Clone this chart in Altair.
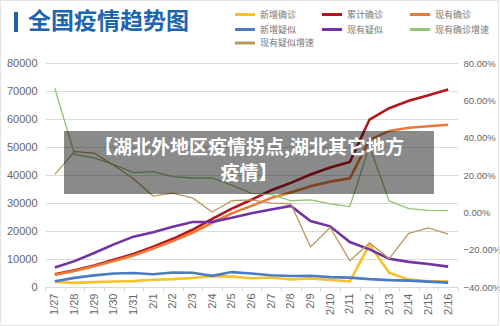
import altair as alt
import pandas as pd

# Daily national figures, 1/27 - 2/16
dates = ["1/27", "1/28", "1/29", "1/30", "1/31", "2/1", "2/2", "2/3", "2/4", "2/5", "2/6",
         "2/7", "2/8", "2/9", "2/10", "2/11", "2/12", "2/13", "2/14", "2/15", "2/16"]
new_confirmed = [1771, 1459, 1737, 1982, 2102, 2590, 2829, 3235, 3887, 3694, 3143,
                 3399, 2656, 3062, 2478, 2015, 15152, 5090, 2641, 2009, 2048]
total_confirmed = [4515, 5974, 7711, 9692, 11791, 14380, 17205, 20438, 24324, 28018, 31161,
                   34546, 37198, 40171, 42638, 44653, 59804, 63851, 66492, 68500, 70548]
current_confirmed = [4409, 5739, 7417, 9308, 11289, 13748, 16369, 19381, 22942, 26302, 28985,
                     31774, 33738, 35982, 37626, 38800, 52526, 55748, 56873, 57416, 57934]
new_suspected = [2077, 3248, 4148, 4812, 5019, 4562, 5173, 5072, 3971, 5328, 4833,
                 4214, 3916, 4008, 3536, 3342, 2807, 2450, 2277, 1918, 1563]
current_suspected = [6973, 9239, 12167, 15238, 17988, 19544, 21558, 23214, 23260, 24702, 26359,
                     27657, 28942, 23589, 21675, 16067, 13435, 10109, 8969, 8228, 7264]
confirmed_growth = [0.665, 0.31, 0.292, 0.255, 0.213, 0.218, 0.191, 0.184, 0.184, 0.146, 0.102,
                    0.096, 0.062, 0.067, 0.046, 0.031, 0.354, 0.061, 0.020, 0.010, 0.009]
suspected_growth = [0.203, 0.325, 0.317, 0.252, 0.180, 0.087, 0.103, 0.077, 0.002, 0.062, 0.067,
                    0.049, 0.046, -0.185, -0.081, -0.259, -0.164, -0.248, -0.113, -0.083, -0.117]

count_names = ["新增确诊", "累计确诊", "现有确诊", "新增疑似", "现有疑似"]
count_colors = ["#F6C12C", "#B3141E", "#EC7A35", "#4A7CC2", "#7233A3"]
rate_names = ["现有确诊增速", "现有疑似增速"]
rate_colors = ["#93C374", "#B89A5E"]

legend_order = ["新增确诊", "累计确诊", "现有确诊", "新增疑似", "现有疑似", "现有确诊增速", "现有疑似增速"]
color_of = dict(zip(count_names + rate_names, count_colors + rate_colors))

title_text = "全国疫情趋势图"
banner_lines = ["【湖北外地区疫情拐点,湖北其它地方", "疫情】"]

CJK = "Noto Sans CJK SC"
LATIN = "Liberation Sans"

# Plot area placement inside the 500x326 canvas
LEFT, TOP, W, H = 45, 63, 413, 224


def px(x):
    return x - LEFT


def py(y):
    return y - TOP


count_df = pd.DataFrame(
    [(d, n, v) for n, vals in zip(count_names,
                                  [new_confirmed, total_confirmed, current_confirmed,
                                   new_suspected, current_suspected])
     for d, v in zip(dates, vals)],
    columns=["date", "series", "value"],
)
rate_df = pd.DataFrame(
    [(d, n, v) for n, vals in zip(rate_names, [confirmed_growth, suspected_growth])
     for d, v in zip(dates, vals)],
    columns=["date", "series", "rate"],
)

x_enc = alt.X(
    "date:O", sort=dates, bandPosition=0.5,
    scale=alt.Scale(type="band", paddingInner=0, paddingOuter=0),
    axis=alt.Axis(title=None, labelAngle=270, labelFont=LATIN, labelFontSize=11,
                  labelColor="#666666", domainColor="#d9d9d9", tickColor="#d9d9d9",
                  tickSize=4, tickBand="extent", labelPadding=2, grid=False),
)

counts = alt.Chart(count_df).mark_line(strokeWidth=2.6).encode(
    x=x_enc,
    y=alt.Y("value:Q", scale=alt.Scale(domain=[0, 80000], nice=False),
            axis=alt.Axis(orient="left", values=list(range(0, 80001, 10000)), format="d",
                          title=None, labelFont=LATIN, labelFontSize=11, labelColor="#666666",
                          grid=True, gridColor="#dcdcdc", domain=False, ticks=False,
                          labelPadding=8)),
    color=alt.Color("series:N", scale=alt.Scale(domain=count_names, range=count_colors),
                    legend=None),
    detail="series:N",
)

rates = alt.Chart(rate_df).mark_line(strokeWidth=1.3).encode(
    x=x_enc,
    y=alt.Y("rate:Q", scale=alt.Scale(domain=[-0.4, 0.8], nice=False),
            axis=alt.Axis(orient="right", values=[-0.4, -0.2, 0, 0.2, 0.4, 0.6, 0.8],
                          format=".2%", title=None, labelFont=LATIN, labelFontSize=9.5,
                          labelColor="#666666", grid=False, domain=False, ticks=False,
                          labelPadding=5)),
    color=alt.Color("series:N", scale=alt.Scale(domain=rate_names, range=rate_colors),
                    legend=None),
)

one = pd.DataFrame({"t": [""]})

# Semi-transparent caption banner over the plot
banner = alt.Chart(one).mark_rect(color="#000000", opacity=0.46).encode(
    x=alt.value(px(64)), x2=alt.value(px(434)), y=alt.value(py(131)), y2=alt.value(py(194)))

banner_texts = [
    alt.Chart(pd.DataFrame({"t": [line]})).mark_text(
        font=CJK, fontSize=19, fontWeight="bold", color="white", align="center",
        baseline="middle").encode(x=alt.value(px(249)), y=alt.value(py(yy)), text="t:N")
    for line, yy in zip(banner_lines, [147.5, 173.5])
]

# Heading with the accent bar
title_bar = alt.Chart(one).mark_rect(color="#1E64AE").encode(
    x=alt.value(px(14)), x2=alt.value(px(18)), y=alt.value(py(12)), y2=alt.value(py(32)))
title = alt.Chart(pd.DataFrame({"t": [title_text]})).mark_text(
    font=CJK, fontSize=23, fontWeight="bold", color="#1E64AE", align="left",
    baseline="middle").encode(x=alt.value(px(28)), y=alt.value(py(22)), text="t:N")

# Hand-placed legend: three columns, row-major order
legend_layers = []
col_x = [235, 322, 410]
row_y = [14.5, 29.5, 43]
for i, name in enumerate(legend_order):
    cx, ry = col_x[i % 3], row_y[i // 3]
    legend_layers.append(
        alt.Chart(one).mark_rule(strokeWidth=3, color=color_of[name]).encode(
            x=alt.value(px(cx)), x2=alt.value(px(cx + 20)), y=alt.value(py(ry))))
    legend_layers.append(
        alt.Chart(pd.DataFrame({"t": [name]})).mark_text(
            font=CJK, fontSize=9, color="#777777", align="left", baseline="middle").encode(
            x=alt.value(px(cx + 25)), y=alt.value(py(ry)), text="t:N"))

frame = alt.Chart(one).mark_rect(fill=None, stroke="#e4e4e4", strokeWidth=1).encode(
    x=alt.value(px(0.5)), x2=alt.value(px(498.5)), y=alt.value(py(0.5)), y2=alt.value(py(325.5)))

chart = alt.layer(
    counts, rates, banner, *banner_texts, title_bar, title, *legend_layers, frame
).resolve_scale(y="independent", color="independent").properties(
    width=W, height=H,
    autosize=alt.AutoSizeParams(type="none"),
    padding={"left": LEFT, "top": TOP, "right": 500 - LEFT - W, "bottom": 326 - TOP - H},
    background="white",
).configure_view(stroke=None)

chart.save("out.html", embed_options={"renderer": "svg", "actions": False})
